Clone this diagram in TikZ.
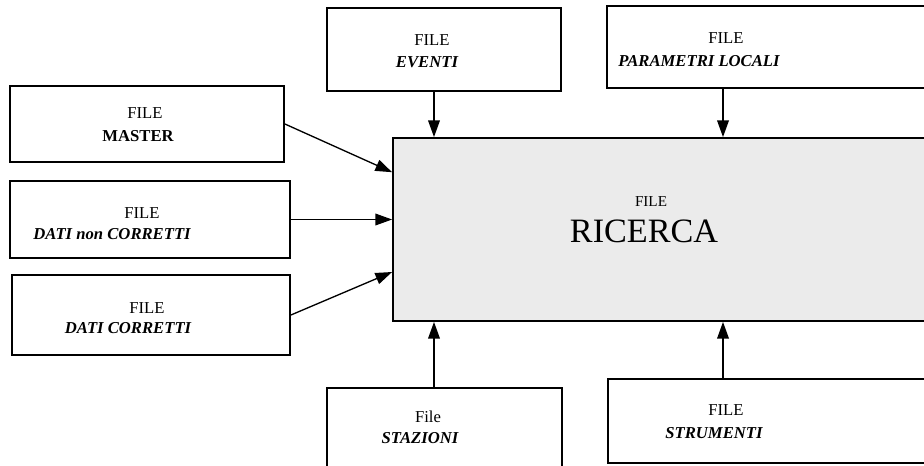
\documentclass[tikz,border=0pt]{standalone}
\usepackage{fontspec}
\setmainfont{Liberation Serif}
\usetikzlibrary{arrows.meta,fit,calc}

\tikzset{
  filebox/.style={draw, line width=1.1pt, inner sep=0pt},
  lbl/.style={inner sep=0pt, font=\fontsize{10}{12}\selectfont},
  nome/.style={lbl, font=\fontsize{10}{12}\selectfont\bfseries\itshape},
  freccia/.style={line width=0.8pt, -{Triangle[length=10pt,width=7pt]}}
}

\begin{document}
\begin{tikzpicture}[x=0.6pt,y=-0.6pt]
    \clip (0,0) rectangle (924,465);
    \fill[white] (0,0) rectangle (924,465);
    % caselle
    \node[filebox, fit={(10,86) (284,162)}] (master) {};
    \node[filebox, fit={(10,181) (290,258)}] (datinon) {};
    \node[filebox, fit={(12,275) (290,355)}] (datic) {};
    \node[filebox, fit={(327,8) (561,91)}] (eventi) {};
    \node[filebox, fit={(607,6) (960,88)}] (param) {};
    \node[filebox, fill=black!8, fit={(393,138) (960,321)}] (ricerca) {};
    \node[filebox, fit={(327,388) (562,490)}] (stazioni) {};
    \node[filebox, fit={(608,379) (960,463)}] (strumenti) {};
    % testi
    \node[lbl] (masterA) at (145,113) {FILE};
    \node[lbl, font=\fontsize{10}{12}\selectfont\bfseries] (masterB) at (138,136) {MASTER};
    \node[lbl] (datinonA) at (142,213) {FILE};
    \node[nome] (datinonB) at (112,234) {DATI non CORRETTI};
    \node[lbl] (daticA) at (147,308) {FILE};
    \node[nome] (daticB) at (128,328) {DATI CORRETTI};
    \node[lbl] (eventiA) at (432,40) {FILE};
    \node[nome] (eventiB) at (427,62) {EVENTI};
    \node[lbl] (paramA) at (726,38) {FILE};
    \node[nome] (paramB) at (699,61) {PARAMETRI LOCALI};
    \node[lbl, font=\fontsize{9.1}{11}\selectfont] (ricercaA) at (651,202) {FILE};
    \node[lbl, font=\fontsize{20.5}{24}\selectfont] (ricercaB) at (644,231) {RICERCA};
    \node[lbl] (stazioniA) at (428,417) {File};
    \node[nome] (stazioniB) at (420,438) {STAZIONI};
    \node[lbl] (strumentiA) at (726,410) {FILE};
    \node[nome] (strumentiB) at (714,433) {STRUMENTI};
    % frecce
    \coordinate (colA) at (434,0);
    \coordinate (colB) at (723,0);
    \draw[freccia] (master.east) -- ($(ricerca.north west)!0.19!(ricerca.south west)$);
    \draw[freccia] (datinon.east) -- (datinon.east -| ricerca.west);
    \draw[freccia] (datic.east) -- ($(ricerca.north west)!0.73!(ricerca.south west)$);
    \draw[freccia] (eventi.south -| colA) -- (ricerca.north -| colA);
    \draw[freccia] (param.south -| colB) -- (ricerca.north -| colB);
    \draw[freccia] (stazioni.north -| colA) -- (ricerca.south -| colA);
    \draw[freccia] (strumenti.north -| colB) -- (ricerca.south -| colB);
\end{tikzpicture}
\end{document}
